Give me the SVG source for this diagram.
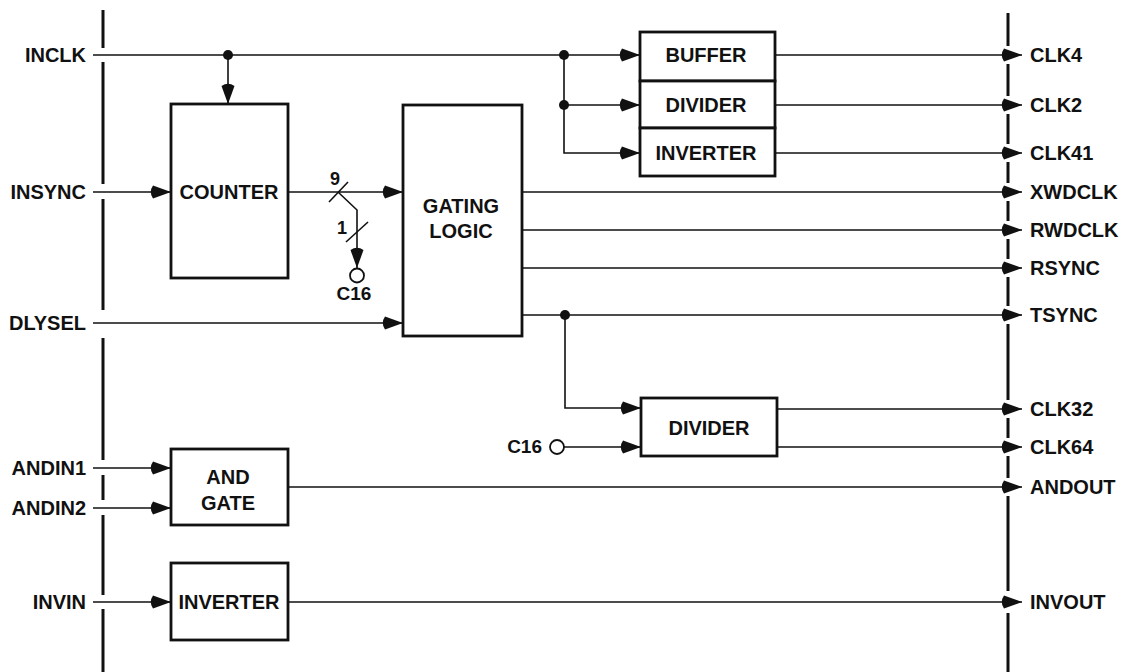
<svg xmlns="http://www.w3.org/2000/svg" width="1127" height="672" viewBox="0 0 1127 672">
<defs>
<style>
.box{fill:#fff;stroke:#111;stroke-width:2.8}
.w{fill:none;stroke:#111;stroke-width:1.6}
.bd{fill:none;stroke:#111;stroke-width:3}
.dot{fill:#111}
.pin{fill:#fff;stroke:#111;stroke-width:1.8}
text{font-family:"Liberation Sans",Arial,sans-serif;font-weight:bold;font-size:20px;fill:#111}
.l{text-anchor:end}
.c{text-anchor:middle}
.s{font-size:18px}
.m{font-size:19px}
</style>
<marker id="ah" markerUnits="userSpaceOnUse" markerWidth="24" markerHeight="16" refX="21" refY="8" orient="auto" viewBox="0 0 24 16">
<path d="M21,8 L3,1.5 Q-1.5,8 3,14.5 Z" fill="#111"/>
</marker>
</defs>
<rect width="1127" height="672" fill="#fff"/>

<g id="boundaries">
<path class="bd" d="M103,10V48M103,62V184M103,199V310M103,338V460M103,475V500M103,515V595M103,609V672"/>
<path class="bd" d="M1008,13V46M1008,64V96M1008,114V144M1008,162V183M1008,201V221M1008,239V259M1008,277V306M1008,324V400M1008,418V438M1008,456V478M1008,496V591M1008,613V672"/>
</g>

<g id="connectors">
<path class="w" d="M93,55H640" marker-end="url(#ah)"/>
<path class="w" d="M228,55V104" marker-end="url(#ah)"/>
<path class="w" d="M93,192H171" marker-end="url(#ah)"/>
<path class="w" d="M288,192H403" marker-end="url(#ah)"/>
<path class="w" d="M329,202L348,182"/>
<path class="w" d="M338,192L357,210V268" marker-end="url(#ah)"/>
<path class="w" d="M346,242L368,222"/>
<path class="w" d="M93,323H403" marker-end="url(#ah)"/>
<path class="w" d="M564,105H640" marker-end="url(#ah)"/>
<path class="w" d="M564,55V153H640" marker-end="url(#ah)"/>
<path class="w" d="M775,55H1022" marker-end="url(#ah)"/>
<path class="w" d="M775,105H1022" marker-end="url(#ah)"/>
<path class="w" d="M775,153H1022" marker-end="url(#ah)"/>
<path class="w" d="M522,192H1022" marker-end="url(#ah)"/>
<path class="w" d="M522,230H1022" marker-end="url(#ah)"/>
<path class="w" d="M522,268H1022" marker-end="url(#ah)"/>
<path class="w" d="M522,315H1022" marker-end="url(#ah)"/>
<path class="w" d="M565,315V408H641" marker-end="url(#ah)"/>
<path class="w" d="M564,447H641" marker-end="url(#ah)"/>
<path class="w" d="M777,409H1022" marker-end="url(#ah)"/>
<path class="w" d="M777,447H1022" marker-end="url(#ah)"/>
<path class="w" d="M93,468H171" marker-end="url(#ah)"/>
<path class="w" d="M93,508H171" marker-end="url(#ah)"/>
<path class="w" d="M288,487H1022" marker-end="url(#ah)"/>
<path class="w" d="M93,602H171" marker-end="url(#ah)"/>
<path class="w" d="M288,602H1022" marker-end="url(#ah)"/>
<circle class="dot" cx="228" cy="55" r="5"/>
<circle class="dot" cx="564" cy="55" r="5"/>
<circle class="dot" cx="564" cy="105" r="5"/>
<circle class="dot" cx="565" cy="315" r="5"/>
<circle class="pin" cx="357" cy="275.5" r="7"/>
<circle class="pin" cx="557" cy="447" r="7"/>
<text class="c s" x="335" y="185">9</text>
<text class="c s" x="342" y="234">1</text>
<text class="c m" x="354" y="300">C16</text>
<text class="l m" x="542" y="453">C16</text>
</g>

<g id="counter"><rect class="box" x="171" y="104" width="117" height="174"/><text class="c" x="229" y="199">COUNTER</text></g>
<g id="gating-logic"><rect class="box" x="403" y="105" width="119" height="231"/><text class="c" x="461" y="213">GATING</text><text class="c" x="461" y="238">LOGIC</text></g>
<g id="buffer"><rect class="box" x="640" y="32" width="135" height="49"/><text class="c" x="706" y="62">BUFFER</text></g>
<g id="divider1"><rect class="box" x="640" y="81" width="135" height="47"/><text class="c" x="706" y="112">DIVIDER</text></g>
<g id="inverter1"><rect class="box" x="640" y="128" width="135" height="48"/><text class="c" x="706" y="160">INVERTER</text></g>
<g id="divider2"><rect class="box" x="641" y="398" width="136" height="58"/><text class="c" x="709" y="435">DIVIDER</text></g>
<g id="and-gate"><rect class="box" x="171" y="449" width="117" height="76"/><text class="c" x="228" y="484">AND</text><text class="c" x="228" y="510">GATE</text></g>
<g id="inverter2"><rect class="box" x="171" y="563" width="117" height="77"/><text class="c" x="229" y="609">INVERTER</text></g>

<g id="inputs">
<text class="l" x="86" y="62">INCLK</text>
<text class="l" x="86" y="199">INSYNC</text>
<text class="l" x="86" y="330">DLYSEL</text>
<text class="l" x="86" y="475">ANDIN1</text>
<text class="l" x="86" y="515">ANDIN2</text>
<text class="l" x="86" y="609">INVIN</text>
</g>
<g id="outputs">
<text x="1030" y="62">CLK4</text>
<text x="1030" y="112">CLK2</text>
<text x="1030" y="160">CLK41</text>
<text x="1030" y="199">XWDCLK</text>
<text x="1030" y="237">RWDCLK</text>
<text x="1030" y="275">RSYNC</text>
<text x="1030" y="322">TSYNC</text>
<text x="1030" y="416">CLK32</text>
<text x="1030" y="454">CLK64</text>
<text x="1030" y="494">ANDOUT</text>
<text x="1030" y="609">INVOUT</text>
</g>
</svg>
